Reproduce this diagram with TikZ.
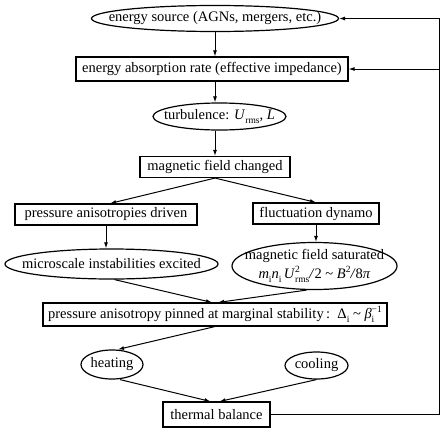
\documentclass[tikz,border=0pt]{standalone}
\usepackage{fontspec}
\setmainfont{Liberation Serif}
\usetikzlibrary{shapes.geometric,arrows.meta}
\newcommand{\ssub}[1]{\raisebox{-0.55ex}{\fontsize{9.5}{9.5}\selectfont #1}}
\newcommand{\ssup}[1]{\raisebox{0.85ex}{\fontsize{9.5}{9.5}\selectfont #1}}
\newcommand{\supsub}[2]{\setbox0\hbox{\ssup{#1}}\setbox2\hbox{\ssub{#2}}\ifdim\wd0>\wd2 \rlap{\box2}\box0 \else\rlap{\box0}\box2 \fi}
\begin{document}
\begin{tikzpicture}[x=1pt,y=-1pt,
  font=\fontsize{14.5}{16}\selectfont,
  box/.style={draw, line width=1.1pt, rectangle, inner sep=0pt},
  ell/.style={draw, line width=1.2pt, ellipse, inner sep=0pt},
  arr/.style={line width=1pt, -{Latex[length=6pt,width=4pt]}}]
\useasboundingbox (0,0) rectangle (443,431);

\node[ell, minimum width=247, minimum height=26,
  label={center:energy source (AGNs, mergers, etc.)}] (src) at (215,18.5) {};
\node[box, minimum width=272, minimum height=24] (abs) at (212,69)
  {energy absorption rate (effective impedance)};
\node[ell, minimum width=133, minimum height=27,
  label={center:turbulence: \textit{U}\ssub{rms}, \textit{L}}] (turb) at (219.5,116.5) {};
\node[box, minimum width=150, minimum height=21] (mfc) at (215,167)
  {magnetic field changed};
\node[box, minimum width=182, minimum height=21] (pad) at (106,214.5)
  {pressure anisotropies driven};
\node[box, minimum width=126, minimum height=21] (fd) at (316,213.5)
  {fluctuation dynamo};
\node[ell, minimum width=213, minimum height=30,
  label={center:microscale instabilities excited}] (mie) at (111.5,264) {};
\node[ell, minimum width=165, minimum height=47,
  label={[align=center]center:magnetic field saturated\\[2.5pt]
  \textit{m}\ssub{i}\textit{n}\ssub{i}\,\textit{U}\supsub{2}{rms}\textit{/}2 \textasciitilde{} \textit{B}\ssup{2}\textit{/}8\textit{π}}] (mfs) at (314.5,266) {};
\node[box, minimum width=344, minimum height=23] (pin) at (215,314.5)
  {pressure anisotropy pinned at marginal stability\,:\enspace Δ\ssub{i} \textasciitilde{} \textit{β}\supsub{−1}{i}};
\node[ell, minimum width=62, minimum height=29,
  label={center:heating}] (heat) at (112,364.5) {};
\node[ell, minimum width=63, minimum height=27,
  label={center:cooling}] (cool) at (316.5,365.5) {};
\node[box, minimum width=107, minimum height=25] (tb) at (216.5,414.5)
  {thermal balance};

\coordinate (rx) at (439,0);

\draw[arr] (src.south) -- (abs.north -| src.south);
\draw[arr] ([xshift=3pt]abs.south) -- (turb.north -| 215,0);
\draw[arr] (turb.south -| 215,0) -- (mfc.north);
\draw[arr] (mfc.south) -- ([xshift=4pt]pad.north);
\draw[arr] (mfc.south) -- (fd.north);
\draw[arr] (pad.south) -- (mie.north -| pad.south);
\draw[arr] (fd.south) -- (mfs.north -| fd.south);
\draw[arr] ([xshift=3pt]mie.south) -- ([xshift=-3pt]pin.north);
\draw[arr] ([xshift=-8pt]mfs.south) -- ([xshift=3pt]pin.north);
\draw[arr] (pin.south) -- ([xshift=6pt]heat.north);
\draw[arr] ([xshift=8pt]heat.south) -- ([xshift=-6pt]tb.north);
\draw[arr] (cool.south) -- ([xshift=3pt]tb.north);
\draw[arr] (tb.east) -- (tb.east -| rx) -- (src.east -| rx) -- (src.east);
\draw[arr] (abs.east -| rx) -- (abs.east);
\end{tikzpicture}
\end{document}
